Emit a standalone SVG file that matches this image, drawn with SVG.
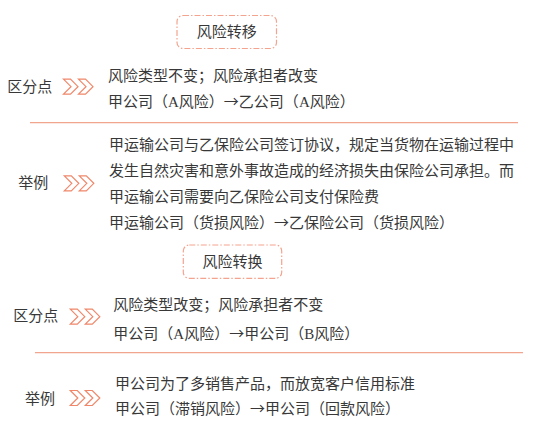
<svg xmlns="http://www.w3.org/2000/svg" xmlns:xlink="http://www.w3.org/1999/xlink" width="538" height="425" viewBox="0 0 538 425">
<style>
  .t { font-family: "Noto Sans CJK SC", sans-serif; font-size: 15px; fill: #383838; }
  .lat { font-family: "Liberation Serif", serif; }
  .title { text-anchor: middle; }
  .box { fill: #ffffff; stroke: #F4A48E; stroke-width: 1.2; stroke-dasharray: 6 2 1.5 2; }
  .div { stroke: #F2A58E; stroke-width: 1.3; fill: none; }
  .chev { fill: #ffffff; stroke: #F0876A; stroke-width: 1.2; stroke-linejoin: miter; }
</style>
<defs>
  <g id="chevs">
    <path class="chev" d="M0,-7.5 L7,-7.5 L14.5,0 L7,7.5 L0,7.5 L7.5,0 Z"/>
    <path class="chev" d="M15,-7.5 L22,-7.5 L29.5,0 L22,7.5 L15,7.5 L22.5,0 Z"/>
  </g>
</defs>
<rect width="538" height="425" fill="#ffffff"/>

<g id="title-transfer">
  <rect class="box" x="177" y="15.5" width="99.5" height="33" rx="6"/>
  <text class="t title" x="226.7" y="37">风险转移</text>
</g>

<g id="transfer-diff">
  <text class="t" x="7.3" y="92">区分点</text>
  <use xlink:href="#chevs" x="63.5" y="86.7"/>
  <text class="t" x="108" y="80.5">风险类型不变；风险承担者改变</text>
  <text class="t" x="108" y="107">甲公司（<tspan class="lat">A</tspan>风险）→乙公司（<tspan class="lat">A</tspan>风险）</text>
</g>

<g id="transfer-example">
  <text class="t" x="18.3" y="187.5">举例</text>
  <use xlink:href="#chevs" x="64.3" y="183.3"/>
  <text class="t" x="109" y="149.5">甲运输公司与乙保险公司签订协议，规定当货物在运输过程中</text>
  <text class="t" x="109" y="176">发生自然灾害和意外事故造成的经济损失由保险公司承担。而</text>
  <text class="t" x="109" y="201.5">甲运输公司需要向乙保险公司支付保险费</text>
  <text class="t" x="109" y="228">甲运输公司（货损风险）→乙保险公司（货损风险）</text>
</g>

<g id="title-conversion">
  <rect class="box" x="183.3" y="245" width="98.4" height="33.3" rx="6"/>
  <text class="t title" x="232.5" y="267">风险转换</text>
</g>

<g id="conversion-diff">
  <text class="t" x="13.3" y="320.5">区分点</text>
  <use xlink:href="#chevs" x="70.3" y="316.7"/>
  <text class="t" x="113.3" y="310">风险类型改变；风险承担者不变</text>
  <text class="t" x="113.3" y="338.5">甲公司（<tspan class="lat">A</tspan>风险）→甲公司（<tspan class="lat">B</tspan>风险）</text>
</g>

<g id="conversion-example">
  <text class="t" x="25" y="404">举例</text>
  <use xlink:href="#chevs" x="70.3" y="398"/>
  <text class="t" x="115" y="389">甲公司为了多销售产品，而放宽客户信用标准</text>
  <text class="t" x="115" y="413.5">甲公司（滞销风险）→甲公司（回款风险）</text>
</g>

<g id="connectors">
  <line class="div" x1="30" y1="122.7" x2="518" y2="122.7"/>
  <line class="div" x1="35" y1="352.7" x2="523" y2="352.7"/>
</g>
</svg>
